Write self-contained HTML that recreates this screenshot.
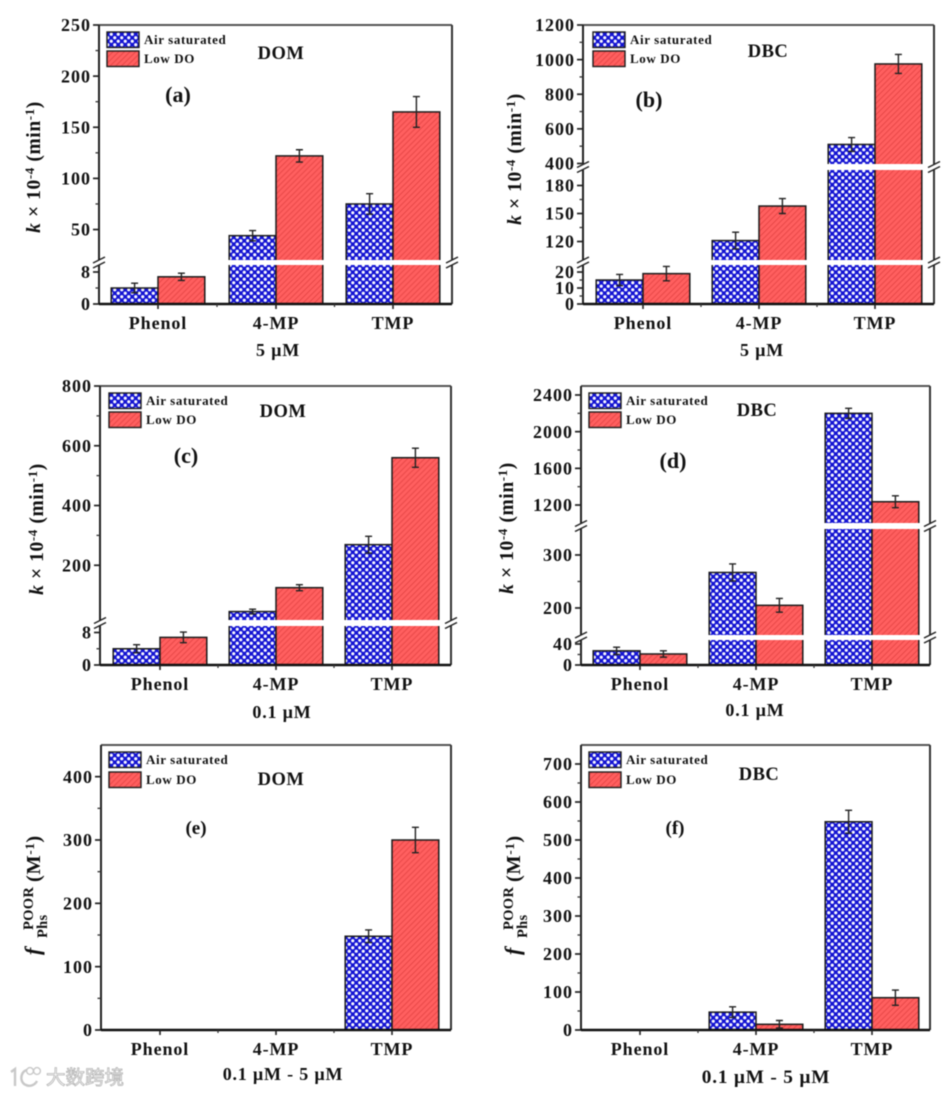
<!DOCTYPE html>
<html lang="en">
<head>
<meta charset="utf-8">
<title>Phenol rate constants under air-saturated and low DO conditions</title>
<style>
html,body{margin:0;padding:0;background:#fff;width:951px;height:1095px;overflow:hidden}
#figure{display:block;filter:blur(.6px);font-family:"Liberation Serif","Noto Sans CJK SC",serif;font-weight:bold;color:#111}
#figure text{fill:#111}
</style>
</head>
<body>
<svg id="figure" xmlns="http://www.w3.org/2000/svg" width="951" height="1095" viewBox="0 0 951 1095">
  <defs>
    <pattern id="air-pattern" width="7" height="7" patternUnits="userSpaceOnUse" patternTransform="translate(1 1)">
      <rect width="7" height="7" fill="#1414d2"/>
      <circle cx="1.75" cy="1.75" r="1.6" fill="#f8f8ff"/>
      <circle cx="5.25" cy="5.25" r="1.6" fill="#f8f8ff"/>
    </pattern>
    <pattern id="low-pattern" width="4" height="4" patternUnits="userSpaceOnUse" patternTransform="rotate(-45)">
      <rect width="4" height="4" fill="#ff5f5f"/>
      <rect width="4" height="1" fill="#e84848"/>
    </pattern>
  </defs>
  <g id="watermark">
    <path d="M11 1072 L15 1069 L15 1086 M30 1070 C21 1068 18 1082 26 1085 C30 1087 35 1085 37 1081" fill="none" stroke="#c8c8c8" stroke-width="2.4"/>
    <circle cx="30" cy="1071" r="3.4" fill="#fff" stroke="#c8c8c8" stroke-width="1.4"/>
    <circle cx="37" cy="1071" r="3.4" fill="#fff" stroke="#c8c8c8" stroke-width="1.4"/>
    <text x="46" y="1084" font-size="19.5" style="fill:#fff;stroke:#b4b4b4;stroke-width:.8;font-family:'Liberation Sans','Noto Sans CJK SC',sans-serif;font-weight:normal">大数跨境</text>
  </g>
</svg>
<script>
// ---- shared chart data ----
const categories = ["Phenol", "4-MP", "TMP"];
const seriesNames = ["Air saturated", "Low DO"];

// panel (a) DOM 5 uM
const airA = [4, 44, 75];
const lowA = [6.8, 122, 165];
const airErrA = [1.2, 5, 10];
const lowErrA = [0.9, 6, 15];
const ticksA = [0, 8, 50, 100, 150, 200, 250];

// panel (b) DBC 5 uM
const airB = [15, 121, 510];
const lowB = [19, 158, 975];
const airErrB = [3.5, 9, 40];
const lowErrB = [4.5, 8, 55];
const ticksB = [0, 10, 20, 120, 150, 180, 400, 600, 800, 1000, 1200];

// panel (c) DOM 0.1 uM
const airC = [4, 45, 269];
const lowC = [6.8, 125, 560];
const airErrC = [1, 8, 28];
const lowErrC = [1.3, 10, 32];
const ticksC = [0, 8, 200, 400, 600, 800];

// panel (d) DBC 0.1 uM
const airD = [27, 267, 2200];
const lowD = [21, 205, 1236];
const airErrD = [7, 16, 55];
const lowErrD = [6, 13, 65];
const ticksD = [0, 40, 200, 300, 1200, 1600, 2000, 2400];

// panel (e) DOM difference
const airE = [0, 0, 148];
const lowE = [0, 0, 300];
const airErrE = [0, 0, 10];
const lowErrE = [0, 0, 20];
const ticksE = [0, 100, 200, 300, 400];

// panel (f) DBC difference
const airF = [0, 47, 548];
const lowF = [0, 15, 85];
const airErrF = [0, 14, 30];
const lowErrF = [0, 10, 20];
const ticksF = [0, 100, 200, 300, 400, 500, 600, 700];

// ---- layout (pixels, not data) ----
const panels = [
  {id:"a", air:airA, low:lowA, airErr:airErrA, lowErr:lowErrA, ticks:ticksA, left:99, right:452, top:25, bottom:304,
   groups:[158,276,393], segs:[{d:[0,9.75],r:[304,265]},{d:[20.2,250],r:[260,25]}],
   legend:[107,32,51], matrix:["DOM",281,59], tag:["(a)",178,102,22], xTitle:["5 µM",278,356,18], yTitle:[40,167,"k"]},
  {id:"b", air:airB, low:lowB, airErr:airErrB, lowErr:lowErrB, ticks:ticksB, left:583, right:934, top:25, bottom:304,
   groups:[643,759,875], segs:[{d:[0,24.4],r:[304,265]},{d:[100.2,196.6],r:[260,170]},{d:[397,1200],r:[164,25]}],
   legend:[593,32,51], matrix:["DBC",768,57], tag:["(b)",649,107,22], xTitle:["5 µM",762,356,18], yTitle:[521,159,"k"]},
  {id:"c", air:airC, low:lowC, airErr:airErrC, lowErr:lowErrC, ticks:ticksC, left:100, right:451, top:386, bottom:665,
   groups:[160,276,392], segs:[{d:[0,9.6],r:[665,626]},{d:[16.8,800],r:[620,386]}],
   legend:[109,393,412], matrix:["DOM",283,417], tag:["(c)",186,463,22], xTitle:["0.1 µM",282,718,18], yTitle:[43,529,"k"]},
  {id:"d", air:airD, low:lowD, airErr:airErrD, lowErr:lowErrD, ticks:ticksD, left:581, right:930, top:386, bottom:665,
   groups:[640,756,872], segs:[{d:[0,47.6],r:[665,640]},{d:[149,349],r:[635,529]},{d:[1004,2498],r:[523,386]}],
   legend:[589,393,412], matrix:["DBC",757,416], tag:["(d)",673,468,22], xTitle:["0.1 µM",755,716,18], yTitle:[513,528,"k"]},
  {id:"e", air:airE, low:lowE, airErr:airErrE, lowErr:lowErrE, ticks:ticksE, left:101, right:451, top:745, bottom:1030,
   groups:[160,276,392], segs:[{d:[0,450],r:[1030,745]}],
   legend:[109,752,772], matrix:["DOM",281,785], tag:["(e)",196,834,19], xTitle:["0.1 µM - 5 µM",283,1080,18], yTitle:[35,947,"f"]},
  {id:"f", air:airF, low:lowF, airErr:airErrF, lowErr:lowErrF, ticks:ticksF, left:581, right:930, top:745, bottom:1030,
   groups:[640,756,872], segs:[{d:[0,750],r:[1030,745]}],
   legend:[589,752,772], matrix:["DBC",759,780], tag:["(f)",675,834,19], xTitle:["0.1 µM - 5 µM",766,1083,19.3], yTitle:[515,947,"f"]}
];
const BAR_W = 46.8;
const NS = "http://www.w3.org/2000/svg";
const root = document.getElementById("figure");

function make(tag, attrs, parent) {
  const n = document.createElementNS(NS, tag);
  for (const k in attrs) n.setAttribute(k, attrs[k]);
  parent.appendChild(n);
  return n;
}
function yScale(p, v) {
  const s = p.segs;
  for (let i = 0; i < s.length; i++) {
    if (v <= s[i].d[1] || i === s.length - 1) {
      const val = Math.max(v, s[i].d[0]);
      return s[i].r[0] + (val - s[i].d[0]) / (s[i].d[1] - s[i].d[0]) * (s[i].r[1] - s[i].r[0]);
    }
  }
}
function segIndex(p, v) {
  for (let i = 0; i < p.segs.length; i++) if (v <= p.segs[i].d[1]) return i;
  return p.segs.length - 1;
}
function drawBar(g, p, cx, v, err, fill, name) {
  if (v > 0) {
    const y = yScale(p, v);
    const bar = make("rect", {x:cx, y:y, width:BAR_W, height:p.bottom - y, fill:fill, stroke:"#1c1c1c", "stroke-width":1.5}, g);
    
    
  }
  if (err > 0) {
    const mid = cx + BAR_W / 2, y1 = yScale(p, v + err), y2 = yScale(p, v - err);
    const eb = make("path", {d:"M" + (mid - 3.5) + " " + y1 + "H" + (mid + 3.5) + "M" + mid + " " + y1 + "V" + y2 + "M" + (mid - 3.5) + " " + y2 + "H" + (mid + 3.5), fill:"none", stroke:"#222", "stroke-width":1.4}, g);
    
    
  }
}
function drawYTitleK(g, x, yc) {
  const t = make("text", {transform:"translate(" + x + " " + yc + ") rotate(-90)", "text-anchor":"middle", "font-size":19.5, "letter-spacing":".6"}, g);
  
  
  const parts = [["k","italic",19.5,0],[" × 10","normal",19.5,0],["-4","normal",13,-6],[" (min","normal",19.5,6],["-1","normal",13,-6],[")","normal",19.5,6]];
  parts.forEach(function (q) {
    const s = make("tspan", {"font-style":q[1], "font-size":q[2], dy:q[3]}, t);
    s.textContent = q[0];
  });
}
function drawYTitleF(g, x, yb) {
  const items = [
    ["f", x + 5, yb + 8, 22, "italic"],
    ["POOR", x - 2, yb - 17, 14.5, "normal"],
    ["Phs", x + 12, yb - 9, 14.5, "normal"]
  ];
  items.forEach(function (q) {
    const t = make("text", {transform:"translate(" + q[1] + " " + q[2] + ") rotate(-90)", "font-size":q[3], "font-style":q[4], "letter-spacing":".3"}, g);
    
    
    t.textContent = q[0];
  });
  const u = make("text", {transform:"translate(" + (x + 5) + " " + (yb - 65) + ") rotate(-90)", "font-size":20.5, "letter-spacing":".6"}, g);
  
  
  const a = make("tspan", {}, u); a.textContent = "(M";
  const b = make("tspan", {"font-size":13, dy:-6}, u); b.textContent = "-1";
  const c = make("tspan", {dy:6}, u); c.textContent = ")";
}

panels.forEach(function (p) {
  const g = make("g", {}, root);
  
  

  // bars
  categories.forEach(function (cat, i) {
    const key = cat.toLowerCase();
    drawBar(g, p, p.groups[i] - BAR_W, p.air[i], p.airErr[i], "url(#air-pattern)", "bar-air-" + key);
    drawBar(g, p, p.groups[i], p.low[i], p.lowErr[i], "url(#low-pattern)", "bar-low-" + key);
  });

  // frame
  const topLine = make("line", {x1:p.left, x2:p.right, y1:p.top, y2:p.top, stroke:"#555", "stroke-width":2}, g);
  
  
  const rightLine = make("line", {x1:p.right, x2:p.right, y1:p.top, y2:p.bottom, stroke:"#333", "stroke-width":2}, g);
  
  
  const leftLine = make("line", {x1:p.left, x2:p.left, y1:p.top, y2:p.bottom, stroke:"#222", "stroke-width":2}, g);
  
  
  const xLine = make("line", {x1:p.left, x2:p.right, y1:p.bottom, y2:p.bottom, stroke:"#111", "stroke-width":2.4}, g);
  
  

  // y ticks
  p.ticks.forEach(function (v, i) {
    const y = yScale(p, v);
    const tick = make("line", {x1:p.left - 6, x2:p.left, y1:y, y2:y, stroke:"#222", "stroke-width":1.7}, g);
    
    
    const label = make("text", {x:p.left - 8, y:y + 6.2, "text-anchor":"end", "font-size":18, "letter-spacing":"1"}, g);
    
    
    label.textContent = v;
    if (i < p.ticks.length - 1 && segIndex(p, v) === segIndex(p, p.ticks[i + 1])) {
      const ym = yScale(p, (v + p.ticks[i + 1]) / 2);
      const minor = make("line", {x1:p.left - 3.5, x2:p.left, y1:ym, y2:ym, stroke:"#333", "stroke-width":1.3}, g);
      
      
    }
  });

  // x ticks and labels
  categories.forEach(function (cat, i) {
    const x = p.groups[i];
    const tick = make("line", {x1:x, x2:x, y1:p.bottom, y2:p.bottom + 5, stroke:"#222", "stroke-width":1.6}, g);
    
    
    const label = make("text", {x:x, y:p.bottom + 25, "text-anchor":"middle", "font-size":18, "letter-spacing":".9"}, g);
    
    
    label.textContent = cat;
    if (i < categories.length - 1) {
      const xm = (x + p.groups[i + 1]) / 2;
      const minor = make("line", {x1:xm, x2:xm, y1:p.bottom, y2:p.bottom + 3, stroke:"#333", "stroke-width":1.3}, g);
      
      
    }
  });

  // axis breaks
  for (let i = 0; i < p.segs.length - 1; i++) {
    const y0 = p.segs[i].r[1], y1 = p.segs[i + 1].r[0], yc = (y0 + y1) / 2;
    const band = make("rect", {x:p.left - 1.5, y:y1, width:p.right - p.left + 3, height:y0 - y1, fill:"#fff"}, g);
    
    
    [p.left, p.right].forEach(function (x) {
      const slash = make("path", {d:"M" + (x - 6) + " " + (yc + 0.5) + "L" + (x + 6) + " " + (yc - 5.5) + "M" + (x - 6) + " " + (yc + 5.5) + "L" + (x + 6) + " " + (yc - 0.5), fill:"none", stroke:"#222", "stroke-width":1.5}, g);
      
      
    });
  }

  // legend
  seriesNames.forEach(function (nm, i) {
    const sy = p.legend[i + 1];
    const sw = make("rect", {x:p.legend[0], y:sy, width:32, height:15.5, fill:i === 0 ? "url(#air-pattern)" : "url(#low-pattern)", stroke:"#1c1c1c", "stroke-width":1.4}, g);
    
    
    const tx = make("text", {x:p.legend[0] + 37, y:sy + 12, "font-size":13, "letter-spacing":".6"}, g);
    
    
    tx.textContent = nm;
  });

  // annotations
  const matrix = make("text", {x:p.matrix[1], y:p.matrix[2], "text-anchor":"middle", "font-size":18.5, "letter-spacing":".5"}, g);
  
  
  matrix.textContent = p.matrix[0];
  const tag = make("text", {x:p.tag[1], y:p.tag[2], "text-anchor":"middle", "font-size":p.tag[3]}, g);
  
  
  tag.textContent = p.tag[0];
  const xt = make("text", {x:p.xTitle[1], y:p.xTitle[2], "text-anchor":"middle", "font-size":p.xTitle[3], "letter-spacing":".8"}, g);
  
  
  xt.textContent = p.xTitle[0];

  if (p.yTitle[2] === "k") drawYTitleK(g, p.yTitle[0], p.yTitle[1]);
  else drawYTitleF(g, p.yTitle[0], p.yTitle[1]);
});
</script>
</body>
</html>
